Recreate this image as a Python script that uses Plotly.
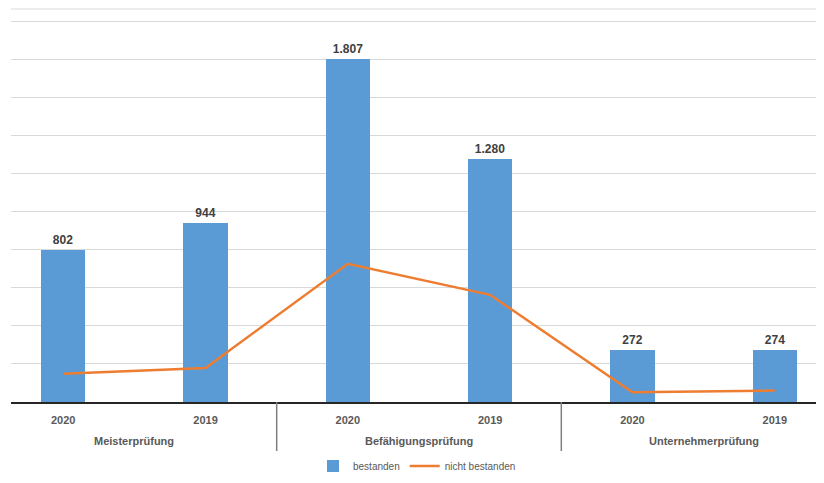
import plotly.graph_objects as go

groups = ["Meisterprüfung", "Befähigungsprüfung", "Unternehmerprüfung"]
years = ["2020", "2019", "2020", "2019", "2020", "2019"]
bestanden = [802, 944, 1807, 1280, 272, 274]
bestanden_labels = ["802", "944", "1.807", "1.280", "272", "274"]
nicht_bestanden = [148, 179, 727, 564, 51, 60]

x = list(range(len(years)))
font_fam = "Liberation Sans, Arial, sans-serif"

OFF = 8  # page body margin offset
W, H = 824, 483
plot_top, plot_bot = 9 - OFF, 402 - OFF
plot_left, plot_right = 11 - OFF, 823 - OFF


def py(ypx):
    return (plot_bot - (ypx - OFF)) / (plot_bot - plot_top)


fig = go.Figure()
fig.add_trace(go.Bar(
    x=x, y=bestanden, name="bestanden", marker_color="#5B9BD5",
    marker_line_width=0, width=0.31,
    text=["<b>" + s + "</b>" for s in bestanden_labels], textposition="outside", cliponaxis=False,
    textfont=dict(family=font_fam, size=12, color="#404040"),
))
fig.add_trace(go.Scatter(
    x=x, y=nicht_bestanden, name="nicht bestanden", mode="lines",
    line=dict(color="#ED7D31", width=2.5),
))

for i, g in enumerate(groups):
    fig.add_annotation(x=2 * i + 0.5, y=py(441), xref="x", yref="paper",
                       yanchor="middle", xanchor="center",
                       text="<b>" + g + "</b>", showarrow=False,
                       font=dict(family=font_fam, size=11, color="#595959"))
for b in [1.5, 3.5]:
    fig.add_shape(type="line", xref="x", yref="paper", x0=b, x1=b, y0=0, y1=py(451),
                  line=dict(color="#7f7f7f", width=1.5))
fig.add_shape(type="line", xref="paper", yref="paper", x0=0, x1=1, y0=1, y1=1,
              line=dict(color="#d9d9d9", width=1))

fig.update_layout(
    width=W, height=H,
    margin=dict(l=plot_left, r=W - plot_right, t=plot_top, b=H - plot_bot, autoexpand=False),
    plot_bgcolor="white", paper_bgcolor="white",
    bargap=0,
    showlegend=True,
    legend=dict(orientation="h", x=0.5, xanchor="center",
                yref="container", y=1 - (466 - OFF) / H, yanchor="middle",
                font=dict(family=font_fam, size=10, color="#595959")),
    xaxis=dict(
        range=[-0.367, 5.339], tickmode="array", tickvals=x,
        ticktext=["<b>" + t + "</b>" for t in years],
        tickfont=dict(family=font_fam, size=11, color="#595959"),
        showgrid=False, zeroline=False, showline=True, linecolor="#262626", linewidth=1.5,
        ticks="", ticklabelstandoff=7, automargin=False,
    ),
    yaxis=dict(
        range=[0, 2068], dtick=200, showticklabels=False,
        gridcolor="#d9d9d9", gridwidth=1, zeroline=False, showline=False, automargin=False,
    ),
)

fig.write_html("out.html")
